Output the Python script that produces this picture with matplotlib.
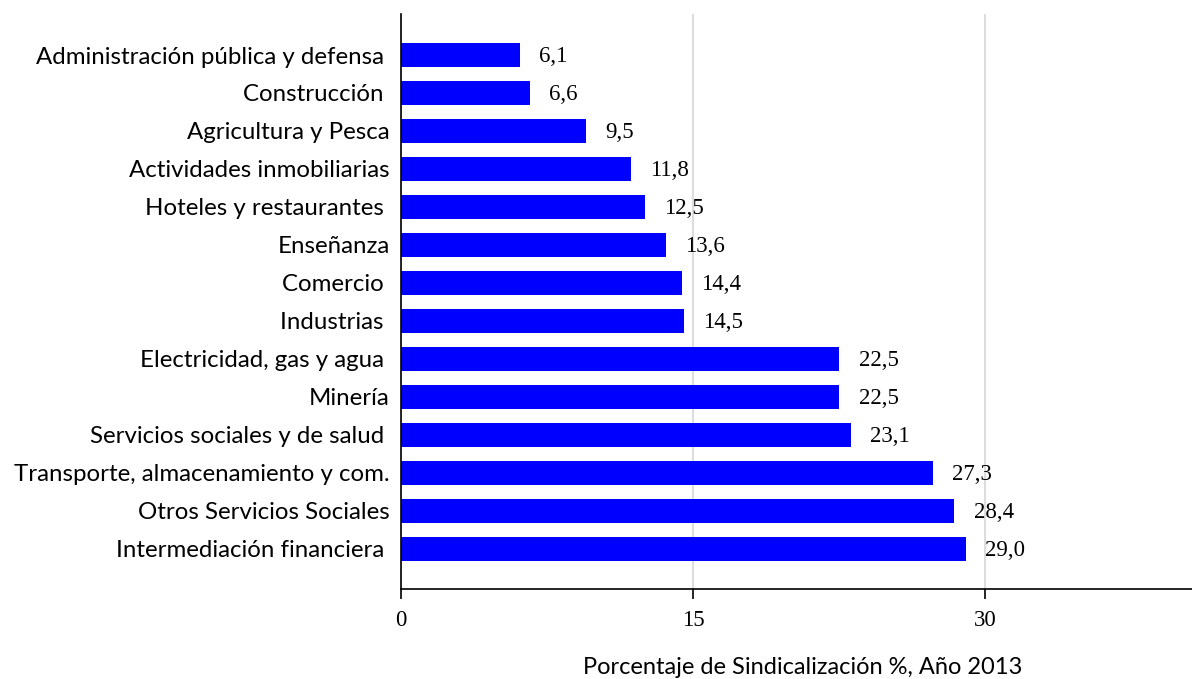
import matplotlib
matplotlib.use("Agg")
import matplotlib.pyplot as plt

# sectores y porcentaje de sindicalizacion (2013)
sectores = [
    "Administración pública y defensa ",
    "Construcción ",
    "Agricultura y Pesca",
    "Actividades inmobiliarias",
    "Hoteles y restaurantes ",
    "Enseñanza",
    "Comercio ",
    "Industrias ",
    "Electricidad, gas y agua ",
    "Minería",
    "Servicios sociales y de salud ",
    "Transporte, almacenamiento y com.",
    "Otros Servicios Sociales",
    "Intermediación financiera ",
]
valores = [6.1, 6.6, 9.5, 11.8, 12.5, 13.6, 14.4, 14.5, 22.5, 22.5, 23.1, 27.3, 28.4, 29.0]
ticks_x = [0, 15, 30]

fig = plt.figure(figsize=(11.92, 6.79), dpi=100)
ax = fig.add_axes([401 / 1192, 1 - 589 / 679, 1 - 401 / 1192, (589 - 14) / 679])

pos = list(range(len(sectores)))
ax.barh(pos, valores, height=0.63, color="#0000ff", zorder=2)
for p, v in zip(pos, valores):
    ax.annotate(f"{v:.1f}".replace(".", ","), (v, p), xytext=(14, -1),
                textcoords="offset points", va="center", ha="left",
                fontsize=16.5, family="Liberation Serif")

ax.set_ylim(len(sectores) - 1 + 1.06, -1.08)
ax.set_xlim(0, 40.6)
ax.set_yticks(pos)
ax.set_yticklabels(sectores, fontsize=17.3, family="Lato")
ax.tick_params(axis="y", length=0, pad=8)
ax.set_xticks(ticks_x)
ax.set_xticklabels([str(t) for t in ticks_x], fontsize=16.5, family="Liberation Serif")
ax.tick_params(axis="x", direction="out", length=7, width=1.2, pad=8)

ax.grid(axis="x", color="#dddddd", linewidth=1.5, zorder=0)
ax.set_axisbelow(True)
for s in ["top", "right"]:
    ax.spines[s].set_visible(False)
ax.spines["left"].set_linewidth(1.2)
ax.spines["bottom"].set_linewidth(1.2)

fig.text(803 / 1192, 1 - 667 / 679, "Porcentaje de Sindicalización %, Año 2013",
         fontsize=17, family="Lato", ha="center", va="center")

fig.savefig("out.png", dpi=100)
